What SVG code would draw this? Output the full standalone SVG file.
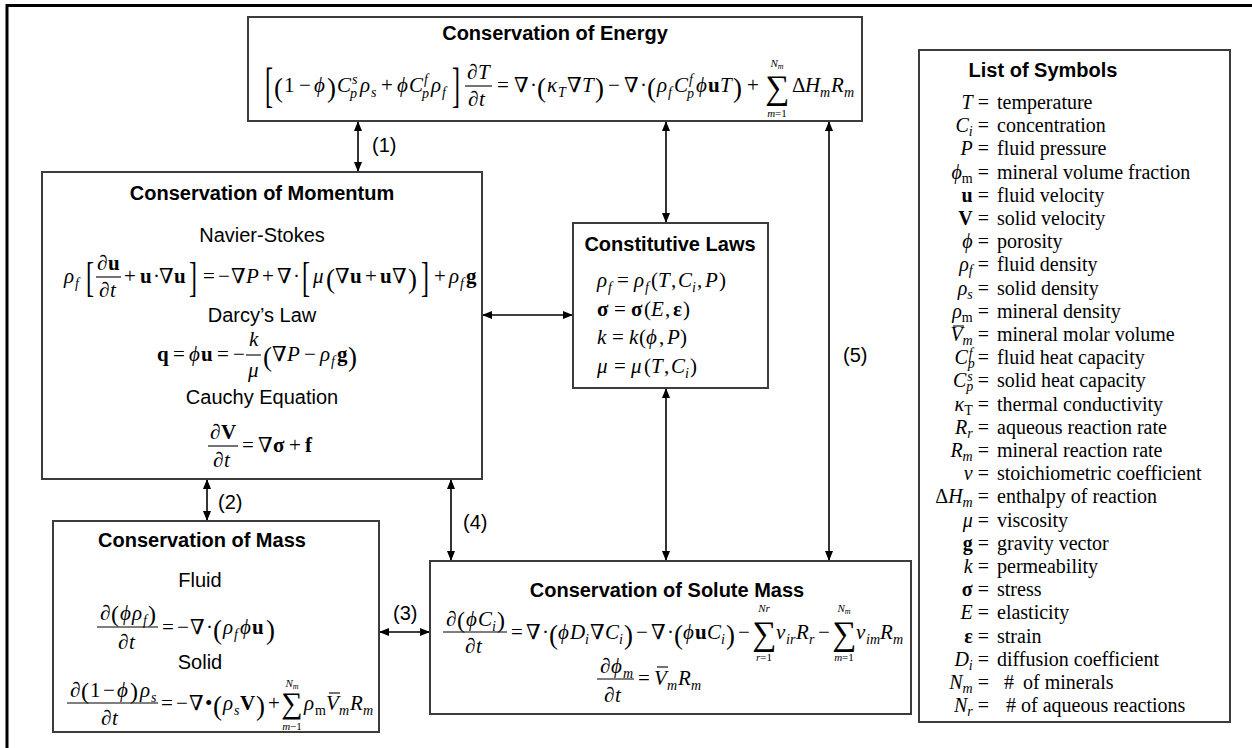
<svg xmlns="http://www.w3.org/2000/svg" width="1252" height="748" viewBox="0 0 1252 748">
<defs>
<marker id="ah" viewBox="0 0 10 8" refX="10" refY="4" markerWidth="10" markerHeight="8" markerUnits="userSpaceOnUse" orient="auto-start-reverse"><path d="M0,0L10,4L0,8z" fill="#000"/></marker>
<style>
.bx{fill:#fff;stroke:#3c3c3c;stroke-width:2}
.frame{fill:none;stroke:#000;stroke-width:3}
.ttl{font-family:"Liberation Sans",Arial,sans-serif;font-weight:bold;font-size:20px;text-anchor:middle;fill:#000}
.hd{font-family:"Liberation Sans",Arial,sans-serif;font-size:20px;text-anchor:middle;fill:#000}
.lab{font-family:"Liberation Sans",Arial,sans-serif;font-size:20px;fill:#000}
.m{font-family:"Liberation Serif","DejaVu Serif",serif;font-size:21px;fill:#000}
.sy{font-family:"Liberation Serif","DejaVu Serif",serif;font-size:20px;fill:#000}
.i{font-style:italic}
.b{font-weight:bold}
.s{font-size:14px}
.xs{font-size:11px}
.xxs{font-size:8px}
.br{font-size:24px}
.P{font-size:27px}
.P2{font-size:24px}
.S{font-size:34px}
.S2{font-size:30px}
.fb{stroke:#000;stroke-width:1.1;fill:none}
.c{stroke:#000;stroke-width:1.6;fill:none;marker-start:url(#ah);marker-end:url(#ah)}
</style>
</defs>
<rect width="1252" height="748" fill="#fff"/>
<path class="frame" d="M7,748V5.5H1252"/>

<g id="connectors">
<path class="c" d="M358,121V172"/>
<path class="c" d="M666,121V223"/>
<path class="c" d="M829,121V561"/>
<path class="c" d="M482,315H573"/>
<path class="c" d="M666,388V561"/>
<path class="c" d="M207,479V521"/>
<path class="c" d="M451,479V561"/>
<path class="c" d="M379,632H430"/>
<text class="lab" x="372" y="152">(1)</text>
<text class="lab" x="218" y="509">(2)</text>
<text class="lab" x="393" y="620">(3)</text>
<text class="lab" x="463" y="529">(4)</text>
<text class="lab" x="843" y="362">(5)</text>
</g>

<g id="energy">
<rect class="bx" x="248" y="17" width="614" height="104"/>
<text class="ttl" x="555" y="40">Conservation of Energy</text>
<text class="m br" transform="translate(265,101) scale(1,2)">[</text>
<text class="m br" transform="translate(452,101) scale(1,2)">]</text>
<text class="m">
<tspan class="P" x="274" y="97">(</tspan>
<tspan x="284" y="92">1</tspan>
<tspan x="299" y="92">−</tspan>
<tspan class="i" x="314" y="92">ϕ</tspan>
<tspan class="P" x="327" y="97">)</tspan>
<tspan class="i" x="337" y="92">C</tspan>
<tspan class="i s" x="350" y="98">p</tspan>
<tspan class="i s" x="352" y="84">s</tspan>
<tspan class="i" x="360" y="92">ρ</tspan>
<tspan class="i s" x="371" y="97">s</tspan>
<tspan x="381" y="92">+</tspan>
<tspan class="i" x="397" y="92">ϕ</tspan>
<tspan class="i" x="409" y="92">C</tspan>
<tspan class="i s" x="422" y="98">p</tspan>
<tspan class="i s" x="424" y="84">f</tspan>
<tspan class="i" x="431" y="92">ρ</tspan>
<tspan class="i s" x="442" y="97">f</tspan>
<tspan x="467" y="79">∂</tspan>
<tspan class="i" x="478" y="79">T</tspan>
<tspan x="468" y="106">∂</tspan>
<tspan class="i" x="479" y="106">t</tspan>
<tspan x="497" y="92">=</tspan>
<tspan x="514" y="92">∇</tspan>
<tspan x="530" y="92">·</tspan>
<tspan class="P" x="537" y="97">(</tspan>
<tspan class="i" x="547" y="92">κ</tspan>
<tspan class="i s" x="558" y="97">T</tspan>
<tspan x="567" y="92">∇</tspan>
<tspan class="i" x="582" y="92">T</tspan>
<tspan class="P" x="595" y="97">)</tspan>
<tspan x="608" y="92">−</tspan>
<tspan x="624" y="92">∇</tspan>
<tspan x="640" y="92">·</tspan>
<tspan class="P" x="647" y="97">(</tspan>
<tspan class="i" x="657" y="92">ρ</tspan>
<tspan class="i s" x="668" y="97">f</tspan>
<tspan class="i" x="674" y="92">C</tspan>
<tspan class="i s" x="687" y="98">p</tspan>
<tspan class="i s" x="689" y="84">f</tspan>
<tspan class="i" x="696" y="92">ϕ</tspan>
<tspan class="b" x="708" y="92">u</tspan>
<tspan class="i" x="720" y="92">T</tspan>
<tspan class="P" x="733" y="97">)</tspan>
<tspan x="747" y="92">+</tspan>
<tspan x="792" y="92">Δ</tspan>
<tspan class="i" x="805" y="92">H</tspan>
<tspan class="i s" x="820" y="97">m</tspan>
<tspan class="i" x="831" y="92">R</tspan>
<tspan class="i s" x="844" y="97">m</tspan>
</text>
<path class="fb" d="M465,86H492"/>
<text class="m S" x="777" y="99" text-anchor="middle">∑</text>
<text class="m xs i" x="777" y="67" text-anchor="middle">N<tspan class="xxs" dy="2">m</tspan></text>
<text class="m xs" x="777" y="117" text-anchor="middle"><tspan class="i">m</tspan>=1</text>
</g>

<g id="momentum">
<rect class="bx" x="42" y="172" width="440" height="307"/>
<text class="ttl" x="262" y="200">Conservation of Momentum</text>
<text class="hd" x="262" y="242">Navier-Stokes</text>
<text class="m br" transform="translate(86,291) scale(1,1.75)">[</text>
<text class="m br" transform="translate(189,291) scale(1,1.75)">]</text>
<text class="m br" transform="translate(302,291) scale(1,1.75)">[</text>
<text class="m br" transform="translate(421,291) scale(1,1.75)">]</text>
<text class="m">
<tspan class="i" x="64" y="283">ρ</tspan>
<tspan class="i s" x="75" y="288">f</tspan>
<tspan x="97" y="270">∂</tspan>
<tspan class="b" x="108" y="270">u</tspan>
<tspan x="99" y="297">∂</tspan>
<tspan class="i" x="110" y="297">t</tspan>
<tspan x="124" y="283">+</tspan>
<tspan class="b" x="140" y="283">u</tspan>
<tspan x="153" y="283">·</tspan>
<tspan x="159" y="283">∇</tspan>
<tspan class="b" x="174" y="283">u</tspan>
<tspan x="203" y="283">=</tspan>
<tspan x="218" y="283">−</tspan>
<tspan x="231" y="283">∇</tspan>
<tspan class="i" x="246" y="283">P</tspan>
<tspan x="262" y="283">+</tspan>
<tspan x="277" y="283">∇</tspan>
<tspan x="293" y="283">·</tspan>
<tspan class="i" x="313" y="283">μ</tspan>
<tspan class="P" x="326" y="288">(</tspan>
<tspan x="335" y="283">∇</tspan>
<tspan class="b" x="350" y="283">u</tspan>
<tspan x="365" y="283">+</tspan>
<tspan class="b" x="380" y="283">u</tspan>
<tspan x="392" y="283">∇</tspan>
<tspan class="P" x="408" y="288">)</tspan>
<tspan x="434" y="283">+</tspan>
<tspan class="i" x="449" y="283">ρ</tspan>
<tspan class="i s" x="460" y="288">f</tspan>
<tspan class="b" x="466" y="283">g</tspan>
</text>
<path class="fb" d="M96,277H121"/>
<text class="hd" x="262" y="322">Darcy’s Law</text>
<text class="m">
<tspan class="b" x="157" y="361">q</tspan>
<tspan x="173" y="361">=</tspan>
<tspan class="i" x="189" y="361">ϕ</tspan>
<tspan class="b" x="201" y="361">u</tspan>
<tspan x="217" y="361">=</tspan>
<tspan x="233" y="361">−</tspan>
<tspan class="i" x="249" y="346">k</tspan>
<tspan class="i" x="248" y="377">μ</tspan>
<tspan class="P" x="263" y="366">(</tspan>
<tspan x="272" y="361">∇</tspan>
<tspan class="i" x="287" y="361">P</tspan>
<tspan x="304" y="361">−</tspan>
<tspan class="i" x="320" y="361">ρ</tspan>
<tspan class="i s" x="331" y="366">f</tspan>
<tspan class="b" x="337" y="361">g</tspan>
<tspan class="P" x="348" y="366">)</tspan>
</text>
<path class="fb" d="M246,355H261"/>
<text class="hd" x="262" y="404">Cauchy Equation</text>
<text class="m">
<tspan x="210" y="439">∂</tspan>
<tspan class="b" x="221" y="439">V</tspan>
<tspan x="213" y="467">∂</tspan>
<tspan class="i" x="224" y="467">t</tspan>
<tspan x="242" y="452">=</tspan>
<tspan x="258" y="452">∇</tspan>
<tspan class="b" x="273" y="452">σ</tspan>
<tspan x="289" y="452">+</tspan>
<tspan class="b" x="305" y="452">f</tspan>
</text>
<path class="fb" d="M208,446H238"/>
</g>

<g id="constitutive">
<rect class="bx" x="573" y="223" width="195" height="165"/>
<text class="ttl" x="670" y="251">Constitutive Laws</text>
<text class="m">
<tspan class="i" x="597" y="287">ρ</tspan>
<tspan class="i s" x="608" y="292">f</tspan>
<tspan x="617" y="287">=</tspan>
<tspan class="i" x="634" y="287">ρ</tspan>
<tspan class="i s" x="645" y="292">f</tspan>
<tspan x="651" y="287">(</tspan>
<tspan class="i" x="658" y="287">T</tspan>
<tspan x="671" y="287">,</tspan>
<tspan class="i" x="678" y="287">C</tspan>
<tspan class="i s" x="692" y="292">i</tspan>
<tspan x="697" y="287">,</tspan>
<tspan class="i" x="705" y="287">P</tspan>
<tspan x="719" y="287">)</tspan>
</text>
<text class="m">
<tspan class="b" x="597" y="316">σ</tspan>
<tspan x="614" y="316">=</tspan>
<tspan class="b" x="631" y="316">σ</tspan>
<tspan x="644" y="316">(</tspan>
<tspan class="i" x="651" y="316">E</tspan>
<tspan x="665" y="316">,</tspan>
<tspan class="b" x="673" y="316">ε</tspan>
<tspan x="683" y="316">)</tspan>
</text>
<text class="m">
<tspan class="i" x="597" y="344">k</tspan>
<tspan x="612" y="344">=</tspan>
<tspan class="i" x="629" y="344">k</tspan>
<tspan x="639" y="344">(</tspan>
<tspan class="i" x="646" y="344">ϕ</tspan>
<tspan x="659" y="344">,</tspan>
<tspan class="i" x="667" y="344">P</tspan>
<tspan x="680" y="344">)</tspan>
</text>
<text class="m">
<tspan class="i" x="597" y="373">μ</tspan>
<tspan x="614" y="373">=</tspan>
<tspan class="i" x="631" y="373">μ</tspan>
<tspan x="644" y="373">(</tspan>
<tspan class="i" x="651" y="373">T</tspan>
<tspan x="664" y="373">,</tspan>
<tspan class="i" x="671" y="373">C</tspan>
<tspan class="i s" x="685" y="378">i</tspan>
<tspan x="690" y="373">)</tspan>
</text>
</g>

<g id="mass">
<rect class="bx" x="53" y="521" width="326" height="211"/>
<text class="ttl" x="202" y="547">Conservation of Mass</text>
<text class="hd" x="200" y="587">Fluid</text>
<text class="m">
<tspan x="100" y="620">∂</tspan>
<tspan class="P2" x="111" y="622">(</tspan>
<tspan class="i" x="120" y="620">ϕ</tspan>
<tspan class="i" x="132" y="620">ρ</tspan>
<tspan class="i s" x="143" y="625">f</tspan>
<tspan class="P2" x="148" y="622">)</tspan>
<tspan x="118" y="649">∂</tspan>
<tspan class="i" x="129" y="649">t</tspan>
<tspan x="162" y="634">=</tspan>
<tspan x="177" y="634">−</tspan>
<tspan x="190" y="634">∇</tspan>
<tspan x="206" y="634">·</tspan>
<tspan class="P" x="213" y="639">(</tspan>
<tspan class="i" x="223" y="634">ρ</tspan>
<tspan class="i s" x="234" y="639">f</tspan>
<tspan class="i" x="240" y="634">ϕ</tspan>
<tspan class="b" x="252" y="634">u</tspan>
<tspan class="P" x="266" y="639">)</tspan>
</text>
<path class="fb" d="M97,627H158"/>
<text class="hd" x="200" y="669">Solid</text>
<text class="m">
<tspan x="70" y="697">∂</tspan>
<tspan class="P2" x="81" y="699">(</tspan>
<tspan x="90" y="697">1</tspan>
<tspan x="103" y="697">−</tspan>
<tspan class="i" x="117" y="697">ϕ</tspan>
<tspan class="P2" x="130" y="699">)</tspan>
<tspan class="i" x="140" y="697">ρ</tspan>
<tspan class="i s" x="151" y="702">s</tspan>
<tspan x="101" y="725">∂</tspan>
<tspan class="i" x="112" y="725">t</tspan>
<tspan x="161" y="710">=</tspan>
<tspan x="176" y="710">−</tspan>
<tspan x="189" y="710">∇</tspan>
<tspan x="205" y="710">•</tspan>
<tspan class="P" x="213" y="715">(</tspan>
<tspan class="i" x="223" y="710">ρ</tspan>
<tspan class="i s" x="234" y="715">s</tspan>
<tspan class="b" x="240" y="710">V</tspan>
<tspan class="P" x="256" y="715">)</tspan>
<tspan x="268" y="710">+</tspan>
<tspan class="i" x="304" y="710">ρ</tspan>
<tspan class="s" x="315" y="715">m</tspan>
<tspan class="i" x="326" y="710">V</tspan>
<tspan class="i s" x="339" y="715">m</tspan>
<tspan class="i" x="350" y="710">R</tspan>
<tspan class="i s" x="363" y="715">m</tspan>
</text>
<path class="fb" d="M67,703H158"/>
<path class="fb" d="M329,693H340"/>
<text class="m S2" x="292" y="713" text-anchor="middle">∑</text>
<text class="m xs i" x="292" y="687" text-anchor="middle">N<tspan class="xxs" dy="2">m</tspan></text>
<text class="m xs" x="292" y="730" text-anchor="middle"><tspan class="i">m</tspan>−1</text>
</g>

<g id="solute">
<rect class="bx" x="430" y="561" width="481" height="153"/>
<text class="ttl" x="667" y="597">Conservation of Solute Mass</text>
<text class="m">
<tspan x="446" y="626">∂</tspan>
<tspan class="P2" x="457" y="628">(</tspan>
<tspan class="i" x="466" y="626">ϕ</tspan>
<tspan class="i" x="478" y="626">C</tspan>
<tspan class="i s" x="492" y="631">i</tspan>
<tspan class="P2" x="497" y="628">)</tspan>
<tspan x="465" y="653">∂</tspan>
<tspan class="i" x="476" y="653">t</tspan>
<tspan x="511" y="639">=</tspan>
<tspan x="526" y="639">∇</tspan>
<tspan x="542" y="639">·</tspan>
<tspan class="P" x="549" y="644">(</tspan>
<tspan class="i" x="558" y="639">ϕ</tspan>
<tspan class="i" x="570" y="639">D</tspan>
<tspan class="i s" x="585" y="644">i</tspan>
<tspan x="590" y="639">∇</tspan>
<tspan class="i" x="605" y="639">C</tspan>
<tspan class="i s" x="619" y="644">i</tspan>
<tspan class="P" x="624" y="644">)</tspan>
<tspan x="636" y="639">−</tspan>
<tspan x="651" y="639">∇</tspan>
<tspan x="667" y="639">·</tspan>
<tspan class="P" x="674" y="644">(</tspan>
<tspan class="i" x="683" y="639">ϕ</tspan>
<tspan class="b" x="695" y="639">u</tspan>
<tspan class="i" x="707" y="639">C</tspan>
<tspan class="i s" x="721" y="644">i</tspan>
<tspan class="P" x="726" y="644">)</tspan>
<tspan x="738" y="639">−</tspan>
<tspan class="i" x="776" y="639">ν</tspan>
<tspan class="i s" x="786" y="644">ir</tspan>
<tspan class="i" x="796" y="639">R</tspan>
<tspan class="i s" x="809" y="644">r</tspan>
<tspan x="818" y="639">−</tspan>
<tspan class="i" x="856" y="639">ν</tspan>
<tspan class="i s" x="866" y="644">im</tspan>
<tspan class="i" x="880" y="639">R</tspan>
<tspan class="i s" x="893" y="644">m</tspan>
</text>
<path class="fb" d="M443,632H507"/>
<text class="m S" x="764" y="645" text-anchor="middle">∑</text>
<text class="m xs i" x="764" y="612" text-anchor="middle">Nr</text>
<text class="m xs" x="764" y="661" text-anchor="middle"><tspan class="i">r</tspan>=1</text>
<text class="m S" x="844" y="645" text-anchor="middle">∑</text>
<text class="m xs i" x="844" y="612" text-anchor="middle">N<tspan class="xxs" dy="2">m</tspan></text>
<text class="m xs" x="844" y="661" text-anchor="middle"><tspan class="i">m</tspan>=1</text>
<text class="m">
<tspan x="600" y="673">∂</tspan>
<tspan class="i" x="611" y="673">ϕ</tspan>
<tspan class="i s" x="623" y="678">m</tspan>
<tspan x="604" y="702">∂</tspan>
<tspan class="i" x="615" y="702">t</tspan>
<tspan x="638" y="685">=</tspan>
<tspan class="i" x="654" y="685">V</tspan>
<tspan class="i s" x="667" y="690">m</tspan>
<tspan class="i" x="678" y="685">R</tspan>
<tspan class="i s" x="691" y="690">m</tspan>
</text>
<path class="fb" d="M597,679H634"/>
<path class="fb" d="M657,667H668"/>
</g>

<g id="symbols">
<rect class="bx" x="919" y="50" width="311" height="672"/>
<text class="ttl" x="1043" y="77">List of Symbols</text>
<text class="sy" x="989" y="109" text-anchor="end"><tspan class="i">T</tspan> =</text>
<text class="sy" x="989" y="132.2" text-anchor="end"><tspan class="i">C</tspan><tspan class="i s" dy="4">i</tspan><tspan dy="-4"> =</tspan></text>
<text class="sy" x="989" y="155.4" text-anchor="end"><tspan class="i">P</tspan> =</text>
<text class="sy" x="989" y="178.6" text-anchor="end"><tspan class="i">ϕ</tspan><tspan class="s" dy="4">m</tspan><tspan dy="-4"> =</tspan></text>
<text class="sy" x="989" y="201.8" text-anchor="end"><tspan class="b">u</tspan> =</text>
<text class="sy" x="989" y="225" text-anchor="end"><tspan class="b">V</tspan> =</text>
<text class="sy" x="989" y="248.2" text-anchor="end"><tspan class="i">ϕ</tspan> =</text>
<text class="sy" x="989" y="271.4" text-anchor="end"><tspan class="i">ρ</tspan><tspan class="i s" dy="4">f</tspan><tspan dy="-4"> =</tspan></text>
<text class="sy" x="989" y="294.6" text-anchor="end"><tspan class="i">ρ</tspan><tspan class="i s" dy="4">s</tspan><tspan dy="-4"> =</tspan></text>
<text class="sy" x="989" y="317.8" text-anchor="end"><tspan class="i">ρ</tspan><tspan class="s" dy="4">m</tspan><tspan dy="-4"> =</tspan></text>
<text class="sy" x="989" y="341" text-anchor="end"><tspan class="i">V</tspan><tspan class="i s" dy="4">m</tspan><tspan dy="-4"> =</tspan></text>
<text class="sy" x="989" y="364.2" text-anchor="end"><tspan class="i">C</tspan><tspan class="i s" dy="4">p</tspan><tspan class="i s" dx="-6" dy="-10">f</tspan><tspan dy="6"> =</tspan></text>
<text class="sy" x="989" y="387.4" text-anchor="end"><tspan class="i">C</tspan><tspan class="i s" dy="4">p</tspan><tspan class="i s" dx="-6" dy="-10">s</tspan><tspan dy="6"> =</tspan></text>
<text class="sy" x="989" y="410.6" text-anchor="end"><tspan class="i">κ</tspan><tspan class="s" dy="4">T</tspan><tspan dy="-4"> =</tspan></text>
<text class="sy" x="989" y="433.8" text-anchor="end"><tspan class="i">R</tspan><tspan class="i s" dy="4">r</tspan><tspan dy="-4"> =</tspan></text>
<text class="sy" x="989" y="457" text-anchor="end"><tspan class="i">R</tspan><tspan class="i s" dy="4">m</tspan><tspan dy="-4"> =</tspan></text>
<text class="sy" x="989" y="480.2" text-anchor="end"><tspan class="i">ν</tspan> =</text>
<text class="sy" x="989" y="503.4" text-anchor="end">Δ<tspan class="i">H</tspan><tspan class="i s" dy="4">m</tspan><tspan dy="-4"> =</tspan></text>
<text class="sy" x="989" y="526.6" text-anchor="end"><tspan class="i">μ</tspan> =</text>
<text class="sy" x="989" y="549.8" text-anchor="end"><tspan class="b">g</tspan> =</text>
<text class="sy" x="989" y="573" text-anchor="end"><tspan class="i">k</tspan> =</text>
<text class="sy" x="989" y="596.2" text-anchor="end"><tspan class="b">σ</tspan> =</text>
<text class="sy" x="989" y="619.4" text-anchor="end"><tspan class="i">E</tspan> =</text>
<text class="sy" x="989" y="642.6" text-anchor="end"><tspan class="b">ε</tspan> =</text>
<text class="sy" x="989" y="665.8" text-anchor="end"><tspan class="i">D</tspan><tspan class="i s" dy="4">i</tspan><tspan dy="-4"> =</tspan></text>
<text class="sy" x="989" y="689" text-anchor="end"><tspan class="i">N</tspan><tspan class="i s" dy="4">m</tspan><tspan dy="-4"> =</tspan></text>
<text class="sy" x="989" y="712.2" text-anchor="end"><tspan class="i">N</tspan><tspan class="i s" dy="4">r</tspan><tspan dy="-4"> =</tspan></text>
<path class="fb" d="M953,326H964"/>
<text class="sy" x="997" y="109">temperature</text>
<text class="sy" x="997" y="132.2">concentration</text>
<text class="sy" x="997" y="155.4">fluid pressure</text>
<text class="sy" x="997" y="178.6">mineral volume fraction</text>
<text class="sy" x="997" y="201.8">fluid velocity</text>
<text class="sy" x="997" y="225">solid velocity</text>
<text class="sy" x="997" y="248.2">porosity</text>
<text class="sy" x="997" y="271.4">fluid density</text>
<text class="sy" x="997" y="294.6">solid density</text>
<text class="sy" x="997" y="317.8">mineral density</text>
<text class="sy" x="997" y="341">mineral molar volume</text>
<text class="sy" x="997" y="364.2">fluid heat capacity</text>
<text class="sy" x="997" y="387.4">solid heat capacity</text>
<text class="sy" x="997" y="410.6">thermal conductivity</text>
<text class="sy" x="997" y="433.8">aqueous reaction rate</text>
<text class="sy" x="997" y="457">mineral reaction rate</text>
<text class="sy" x="997" y="480.2">stoichiometric coefficient</text>
<text class="sy" x="997" y="503.4">enthalpy of reaction</text>
<text class="sy" x="997" y="526.6">viscosity</text>
<text class="sy" x="997" y="549.8">gravity vector</text>
<text class="sy" x="997" y="573">permeability</text>
<text class="sy" x="997" y="596.2">stress</text>
<text class="sy" x="997" y="619.4">elasticity</text>
<text class="sy" x="997" y="642.6">strain</text>
<text class="sy" x="997" y="665.8">diffusion coefficient</text>
<text class="sy" y="689"><tspan x="1004">#</tspan><tspan x="1023">of minerals</tspan></text>
<text class="sy" x="1006" y="712.2"># of aqueous reactions</text>
</g>
</svg>
